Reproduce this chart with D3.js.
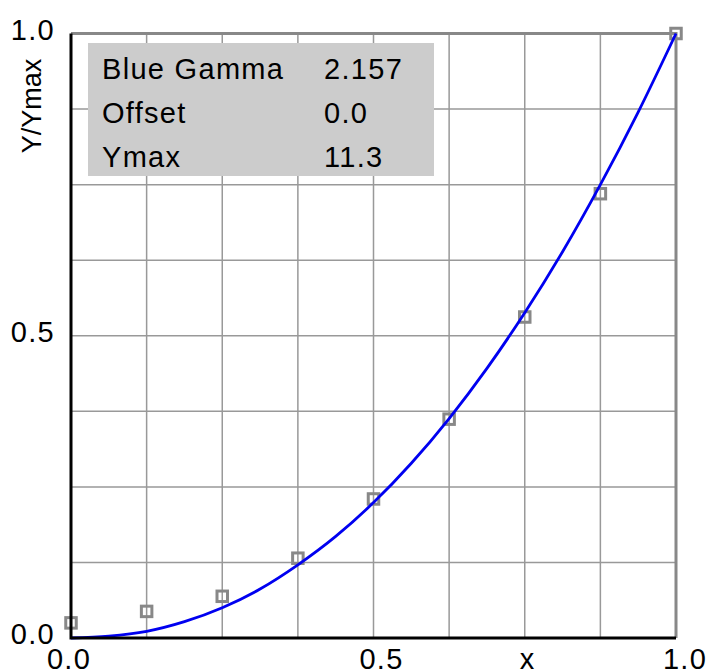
<!DOCTYPE html>
<html lang="en">
	<head>
		<meta charset="utf-8">
		<title>Blue Gamma</title>
		<script type="text/javascript" src="https://cdn.jsdelivr.net/npm/d3@7"></script>
		<style type="text/css">
			body { margin: 0; background: #fff; }
			text { font-family: "Liberation Sans", Arial, sans-serif; font-size: 29px; letter-spacing: 1.3px; fill: #000; }
		</style>
	</head>
	<body>
		<script type="text/javascript">

			//Width and height
			var w = 713;
			var h = 671;

			// measured points
			var sampleX = [0, 0.125, 0.25, 0.375, 0.5, 0.625, 0.75, 0.875, 1.0];
			var sampleY = [0.025, 0.044, 0.069, 0.132, 0.230, 0.362, 0.531, 0.735, 1.0];

			// fitted curve
			var curveX = [0, 0.0625, 0.125, 0.1875, 0.25, 0.3125, 0.375, 0.4375, 0.5,
			              0.5625, 0.625, 0.6875, 0.75, 0.8125, 0.875, 0.9375, 1.0];
			var curveY = [0, 0.003, 0.011, 0.027, 0.050, 0.081, 0.121, 0.168, 0.224,
			              0.289, 0.363, 0.446, 0.538, 0.639, 0.750, 0.870, 1.0];

			// ticks
			var gridValues = [0, 0.125, 0.25, 0.375, 0.5, 0.625, 0.75, 0.875, 1.0];
			var yTickValues = [0, 0.5, 1.0];
			var yTickLabels = ["0.0", "0.5", "1.0"];
			var xTickValues = [0, 0.5, 1.0];
			var xTickLabels = ["0.0", "0.5", "1.0"];

			// info box
			var tableLabels = ["Blue Gamma", "Offset", "Ymax"];
			var tableValues = ["2.157", "0.0", "11.3"];

			var xScale = d3.scaleLinear().domain([0, 1]).range([71, 676]);
			var yScale = d3.scaleLinear().domain([0, 1]).range([638, 33.5]);

			//Create SVG element
			var svg = d3.select("body")
						.append("svg")
						.attr("width", w)
						.attr("height", h);

			//Grid
			svg.selectAll("line.vgrid")
			   .data(gridValues.slice(1, -1))
			   .enter()
			   .append("line")
			   .attr("class", "vgrid")
			   .attr("x1", function(d) { return xScale(d); })
			   .attr("x2", function(d) { return xScale(d); })
			   .attr("y1", yScale(0))
			   .attr("y2", yScale(1))
			   .attr("stroke", "#999")
			   .attr("stroke-width", 1.5);

			svg.selectAll("line.hgrid")
			   .data(gridValues.slice(1, -1))
			   .enter()
			   .append("line")
			   .attr("class", "hgrid")
			   .attr("x1", xScale(0))
			   .attr("x2", xScale(1))
			   .attr("y1", function(d) { return yScale(d); })
			   .attr("y2", function(d) { return yScale(d); })
			   .attr("stroke", "#999")
			   .attr("stroke-width", 1.5);

			//Top and right border
			svg.append("path")
			   .attr("d", "M" + xScale(0) + "," + yScale(1) + "H" + xScale(1) + "V" + yScale(0))
			   .attr("fill", "none")
			   .attr("stroke", "#888")
			   .attr("stroke-width", 3);

			//Info box
			var box = svg.append("g");
			box.append("rect")
			   .attr("x", 88)
			   .attr("y", 43)
			   .attr("width", 346)
			   .attr("height", 133)
			   .attr("fill", "#cccccc");

			box.selectAll("text.lab")
			   .data(tableLabels)
			   .enter()
			   .append("text")
			   .attr("class", "lab")
			   .attr("x", 102)
			   .attr("y", function(d, i) { return 79 + i * 44; })
			   .text(function(d) { return d; });

			box.selectAll("text.val")
			   .data(tableValues)
			   .enter()
			   .append("text")
			   .attr("class", "val")
			   .attr("x", 324)
			   .attr("y", function(d, i) { return 79 + i * 44; })
			   .text(function(d) { return d; });

			//Squares
			var sq = 10.5;
			svg.selectAll("rect.pt")
			   .data(sampleX)
			   .enter()
			   .append("rect")
			   .attr("class", "pt")
			   .attr("x", function(d) { return xScale(d) - sq / 2; })
			   .attr("y", function(d, i) { return yScale(sampleY[i]) - sq / 2; })
			   .attr("width", sq)
			   .attr("height", sq)
			   .attr("fill", "none")
			   .attr("stroke", "#888")
			   .attr("stroke-width", 3);

			//Curve
			var line = d3.line()
						 .x(function(d) { return xScale(d); })
						 .y(function(d, i) { return yScale(curveY[i]); })
						 .curve(d3.curveMonotoneX);

			svg.append("path")
			   .datum(curveX)
			   .attr("d", line)
			   .attr("fill", "none")
			   .attr("stroke", "#0000f0")
			   .attr("stroke-width", 2.8);

			//Left and bottom axis lines
			svg.append("path")
			   .attr("d", "M" + xScale(0) + "," + yScale(1) + "V" + yScale(0) + "H" + xScale(1))
			   .attr("fill", "none")
			   .attr("stroke", "#000")
			   .attr("stroke-width", 3);

			//Y tick labels
			svg.selectAll("text.ytick")
			   .data(yTickValues)
			   .enter()
			   .append("text")
			   .attr("class", "ytick")
			   .attr("text-anchor", "end")
			   .attr("x", 55)
			   .attr("y", function(d) { return yScale(d) + 6; })
			   .text(function(d, i) { return yTickLabels[i]; });

			//X tick labels
			var xShift = [-2, 8, 9];
			svg.selectAll("text.xtick")
			   .data(xTickValues)
			   .enter()
			   .append("text")
			   .attr("class", "xtick")
			   .attr("text-anchor", "middle")
			   .attr("x", function(d, i) { return xScale(d) + xShift[i]; })
			   .attr("y", 669)
			   .text(function(d, i) { return xTickLabels[i]; });

			//Axis titles
			svg.append("text")
			   .attr("text-anchor", "middle")
			   .attr("x", xScale(0.75) + 3)
			   .attr("y", 669)
			   .text("x");

			svg.append("text")
			   .attr("text-anchor", "middle")
			   .attr("transform", "translate(41,106) rotate(-90)")
			   .style("letter-spacing", "0px")
			   .style("font-size", "27px")
			   .text("Y/Ymax");

		</script>
	</body>
</html>
